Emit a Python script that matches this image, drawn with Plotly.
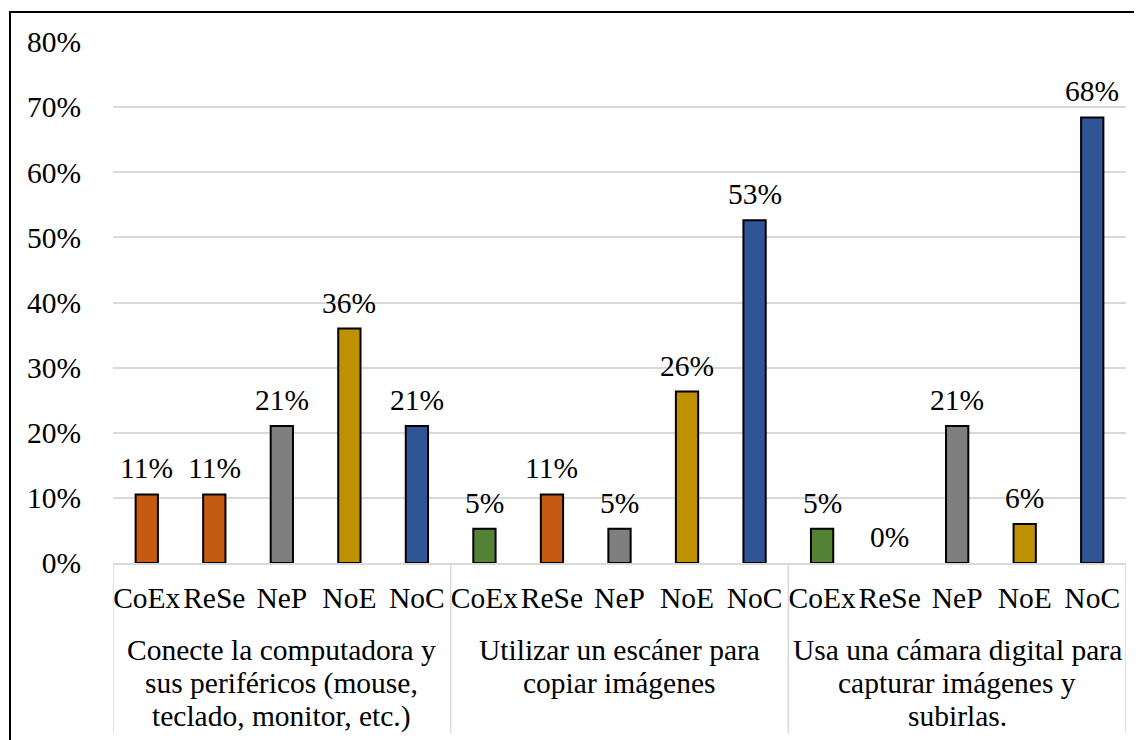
import plotly.graph_objects as go

groups = [
    "Conecte la computadora y<br>sus periféricos (mouse,<br>teclado, monitor, etc.)",
    "Utilizar un escáner para<br>copiar imágenes",
    "Usa una cámara digital para<br>capturar imágenes y<br>subirlas.",
]
subcats = ["CoEx", "ReSe", "NeP", "NoE", "NoC"]
values = [
    [0.1053, 0.1053, 0.2105, 0.36, 0.2105],
    [0.0526, 0.1053, 0.0526, 0.2632, 0.5263],
    [0.0526, 0.0, 0.2105, 0.06, 0.6842],
]
colors = [
    ["#C55A11", "#C55A11", "#7F7F7F", "#BF9000", "#2F5597"],
    ["#548235", "#C55A11", "#7F7F7F", "#BF9000", "#2F5597"],
    ["#548235", "#C55A11", "#7F7F7F", "#BF9000", "#2F5597"],
]
y_ticks = [0, 0.1, 0.2, 0.3, 0.4, 0.5, 0.6, 0.7, 0.8]

n = len(subcats)
xpos, xlab, yv, cv = [], [], [], []
for gi, (vals, cols) in enumerate(zip(values, colors)):
    for si, (s, v, c) in enumerate(zip(subcats, vals, cols)):
        xpos.append(gi * n + si)
        xlab.append(s)
        yv.append(v)
        cv.append(c)

FONT = "Liberation Serif, Times New Roman, serif"
FS = 29.5

fig = go.Figure(go.Bar(
    x=xpos, y=yv,
    marker=dict(color=cv, line=dict(color="black",
                                    width=[2 if v > 0 else 0 for v in yv])),
    cliponaxis=False, hoverinfo="x+y",
))

# value labels above bars
for x, v in zip(xpos, yv):
    fig.add_annotation(
        x=x, y=v, xref="x", yref="y", text=f"{v:.0%}", showarrow=False,
        yanchor="bottom", xanchor="center", yshift=8,
        font=dict(family=FONT, size=FS, color="black"),
    )

# page has an 8px body margin, so the figure is sized to fit inside it
W, H = 1134, 732
L, T = 105, 34
pw, ph = 1013, 521
R = W - L - pw
B = H - T - ph
fig.update_layout(
    width=W, height=H,
    margin=dict(l=L, r=R, t=T, b=B, autoexpand=False),
    paper_bgcolor="white", plot_bgcolor="white",
    font=dict(family=FONT, size=FS, color="black"),
    bargap=0.67, showlegend=False,
)
fig.update_yaxes(
    range=[0, 0.8], tickvals=y_ticks, tickformat=".0%",
    showgrid=True, gridcolor="#D9D9D9", gridwidth=1.5,
    zeroline=False, showline=False, ticks="", ticklabelstandoff=31,
    tickfont=dict(family=FONT, size=FS, color="black"), automargin=False,
)
fig.update_xaxes(
    range=[-0.5, len(xpos) - 0.5], tickvals=xpos, ticktext=xlab, tickangle=0,
    showline=True, linecolor="#D9D9D9", linewidth=1.5, showgrid=False,
    zeroline=False, ticks="", ticklabelstandoff=8,
    tickfont=dict(family=FONT, size=FS, color="black"), automargin=False,
)

# group dividers and group labels (one annotation per line for tight spacing)
for k in range(len(groups) + 1):
    fig.add_shape(
        type="line", xref="x", yref="paper",
        x0=k * n - 0.5, x1=k * n - 0.5, y0=0, y1=-170 / ph,
        line=dict(color="#D9D9D9", width=1.5),
    )
LINE_H = 33
for gi, g in enumerate(groups):
    for li, line in enumerate(g.split("<br>")):
        fig.add_annotation(
            x=gi * n + (n - 1) / 2, xref="x", y=-(69 + LINE_H * li) / ph,
            yref="paper", text=line, showarrow=False, yanchor="top",
            xanchor="center", align="center",
            font=dict(family=FONT, size=FS, color="black"),
        )

# outer frame (top and left edges visible)
fig.add_shape(
    type="rect", xref="paper", yref="paper",
    x0=(2 - L) / pw, x1=(W + 20 - L) / pw,
    y0=-(B + 20) / ph, y1=1 + (T - 4) / ph,
    line=dict(color="black", width=2), fillcolor="rgba(0,0,0,0)", layer="below",
)

fig.write_html("out.html")
